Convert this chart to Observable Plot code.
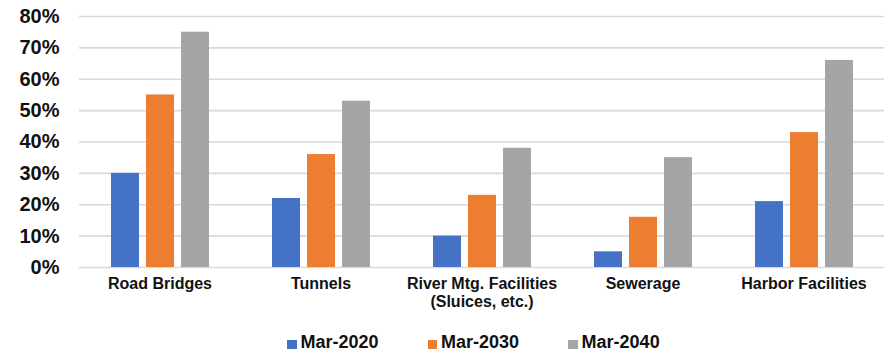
<!DOCTYPE html>
<html>
<head>
<meta charset="utf-8">
<script src="https://cdn.jsdelivr.net/npm/d3@7"></script>
<script src="https://cdn.jsdelivr.net/npm/@observablehq/plot@0.6"></script>
<style>
  html, body { margin: 0; padding: 0; background: #fff; }
  body { width: 892px; height: 351px; overflow: hidden; font-family: "Liberation Sans", Arial, sans-serif; }
  #legend { height: 29px; display: flex; align-items: flex-start; padding-left: 287px; box-sizing: border-box; }
  .item { display: flex; align-items: center; margin-right: 49px; margin-top: 9px; font-size: 18px; font-weight: bold; color: #111; line-height: 22px; }
  .sw { width: 9.5px; height: 9.5px; margin-right: 4px; margin-top: 5px; }
</style>
</head>
<body>
<div id="chart"></div>
<div id="legend"></div>
<script>
// Asset categories (the third label wraps onto two lines)
const categories = ["Road Bridges", "Tunnels", "River Mtg. Facilities\n(Sluices, etc.)", "Sewerage", "Harbor Facilities"];
// Time points shown for each category
const series = ["Mar-2020", "Mar-2030", "Mar-2040"];
// Share of facilities 50+ years old (%)
const mar2020 = [30, 22, 10, 5, 21];
const mar2030 = [55, 36, 23, 16, 43];
const mar2040 = [75, 53, 38, 35, 66];
const colors = ["#4472C4", "#ED7D31", "#A5A5A5"];
const yTicks = [0, 10, 20, 30, 40, 50, 60, 70, 80];

const seriesValues = [mar2020, mar2030, mar2040];
const rows = [];
categories.forEach((c, i) => {
  series.forEach((s, j) => rows.push({category: c, series: s, value: seriesValues[j][i]}));
});

const chart = Plot.plot({
  width: 892,
  height: 322,
  marginLeft: 78,
  marginRight: 8,
  marginTop: 16,
  marginBottom: 55,
  style: {fontFamily: "'Liberation Sans', Arial, sans-serif", fontWeight: "bold", color: "#111", background: "#fff"},
  fx: {domain: categories, padding: 0, label: null, axis: null},
  x: {domain: series, paddingInner: 0.21, paddingOuter: 0.87, axis: null},
  y: {domain: [0, 80], axis: null},
  color: {domain: series, range: colors},
  marks: [
    Plot.gridY(yTicks, {stroke: "#d9d9d9", strokeOpacity: 1, strokeWidth: 1.6}),
    Plot.axisY(yTicks, {tickSize: 0, tickPadding: 20, tickFormat: d => d + "%", fontSize: 20, fontWeight: "bold", label: null}),
    Plot.axisFx({anchor: "bottom", tickSize: 0, tickPadding: 9, fontSize: 16, fontWeight: "bold", lineHeight: 1.12, label: null}),
    Plot.barY(rows, {fx: "category", x: "series", y: "value", fill: "series"})
  ]
});
document.getElementById("chart").appendChild(chart);

const legend = document.getElementById("legend");
series.forEach((s, j) => {
  const item = document.createElement("div");
  item.className = "item";
  const sw = document.createElement("span");
  sw.className = "sw";
  sw.style.background = colors[j];
  item.appendChild(sw);
  item.appendChild(document.createTextNode(s));
  legend.appendChild(item);
});
</script>
</body>
</html>
